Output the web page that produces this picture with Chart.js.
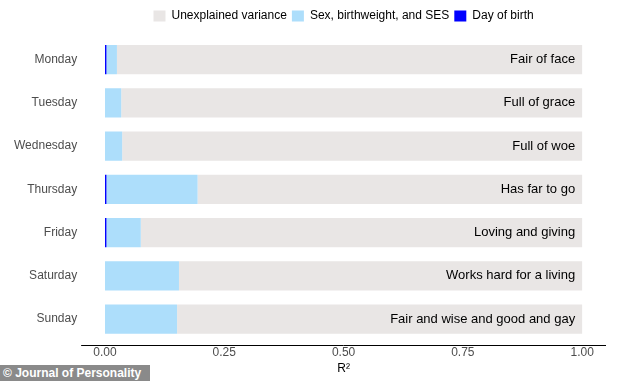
<!DOCTYPE html>
<html>
<head>
<meta charset="utf-8">
<script src="https://cdn.jsdelivr.net/npm/chart.js@4/dist/chart.umd.min.js"></script>
<style>
  html, body { margin: 0; padding: 0; background: #fff; }
  #wrap { position: relative; width: 634px; height: 381px; }
  #c { display: block; }
  #credit {
    position: absolute; left: 0; top: 365px; width: 150px; height: 16px;
    background: #8a8a8a; color: #fff; font: bold 12px "Liberation Sans", Arial, sans-serif;
    line-height: 16px; padding-left: 3px; box-sizing: border-box; white-space: nowrap;
  }
</style>
</head>
<body>
<div id="wrap">
  <canvas id="c" width="634" height="381"></canvas>
  <div id="credit">© Journal of Personality</div>
</div>
<script>
const days = ["Monday", "Tuesday", "Wednesday", "Thursday", "Friday", "Saturday", "Sunday"];
const rhymes = ["Fair of face", "Full of grace", "Full of woe", "Has far to go", "Loving and giving", "Works hard for a living", "Fair and wise and good and gay"];
const dayOfBirth = [0.003, 0, 0, 0.003, 0.003, 0, 0];
const sesBirthweight = [0.022, 0.034, 0.036, 0.191, 0.072, 0.155, 0.151];
const unexplained = [0.975, 0.966, 0.964, 0.806, 0.925, 0.845, 0.849];
const xTicks = [0, 0.25, 0.5, 0.75, 1];

const FONT = '"Liberation Sans", Arial, Helvetica, sans-serif';

const barLabels = {
  id: 'barLabels',
  afterInit(chart) {
    const lg = chart.legend;
    if (lg && !lg._patched) {
      const orig = lg.fit;
      lg.fit = function () { orig.call(this); this.height += 6; };
      lg._patched = true;
    }
  },
  afterDatasetsDraw(chart) {
    const meta = chart.getDatasetMeta(2);
    const ctx = chart.ctx;
    ctx.save();
    ctx.font = '13px ' + FONT;
    ctx.fillStyle = '#000';
    ctx.textAlign = 'right';
    ctx.textBaseline = 'middle';
    meta.data.forEach((el, i) => {
      ctx.fillText(rhymes[i], el.x - 7, el.y);
    });
    ctx.restore();
  },
  afterDraw(chart) {
    const a = chart.chartArea;
    const ctx = chart.ctx;
    ctx.save();
    ctx.strokeStyle = '#000';
    ctx.lineWidth = 1;
    ctx.beginPath();
    const y = Math.round(a.bottom + 4) + 0.5;
    ctx.moveTo(a.left, y);
    ctx.lineTo(a.right, y);
    ctx.stroke();
    ctx.restore();
  }
};

new Chart(document.getElementById('c'), {
  type: 'bar',
  data: {
    labels: days,
    datasets: [
      { label: 'Day of birth', data: dayOfBirth, backgroundColor: '#0000FF' },
      { label: 'Sex, birthweight, and SES', data: sesBirthweight, backgroundColor: '#ADDEFB' },
      { label: 'Unexplained variance', data: unexplained, backgroundColor: '#E9E6E5' }
    ]
  },
  options: {
    indexAxis: 'y',
    responsive: false,
    animation: false,
    devicePixelRatio: 1,
    datasets: { bar: { categoryPercentage: 1, barPercentage: 0.68, borderWidth: 0 } },
    layout: { padding: { left: 10, right: 28, top: 5, bottom: 5.5 } },
    plugins: {
      tooltip: { enabled: false },
      legend: {
        position: 'top',
        fullSize: false,
        reverse: true,
        labels: {
          boxWidth: 12, boxHeight: 11, padding: 5,
          color: '#000',
          font: { family: FONT, size: 12 }
        }
      }
    },
    scales: {
      x: {
        stacked: true,
        min: -0.05, max: 1.05,
        afterBuildTicks(scale) { scale.ticks = xTicks.map(v => ({ value: v })); },
        grid: { display: false, drawTicks: false },
        border: { display: false },
        ticks: {
          padding: 5,
          color: '#4d4d4d',
          font: { family: FONT, size: 12 },
          callback: v => Number(v).toFixed(2)
        },
        title: {
          display: true, text: 'R²', color: '#000',
          font: { family: FONT, size: 12 },
          padding: { top: -4, bottom: 0 }
        }
      },
      y: {
        stacked: true,
        grid: { display: false, drawTicks: false },
        border: { display: false },
        ticks: {
          padding: 4,
          color: '#4d4d4d',
          font: { family: FONT, size: 12 }
        }
      }
    }
  },
  plugins: [barLabels]
});
</script>
</body>
</html>
